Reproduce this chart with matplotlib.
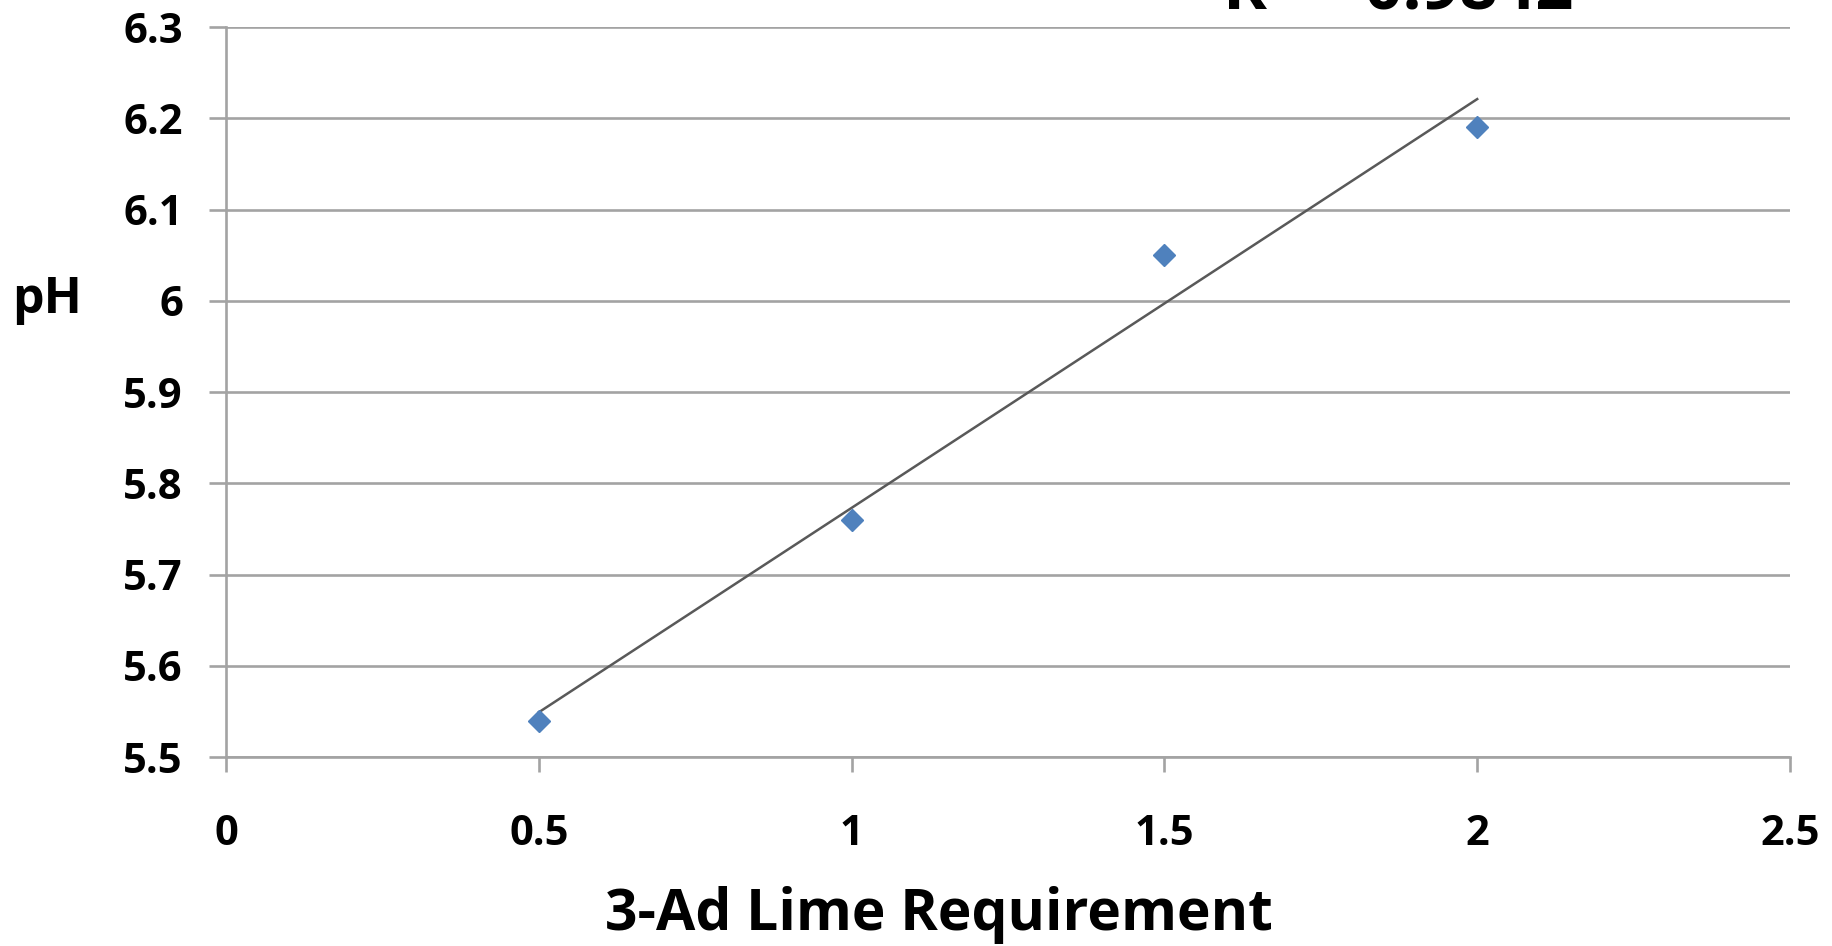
import matplotlib
matplotlib.use("Agg")
import matplotlib.pyplot as plt
import numpy as np

# datos
cal_lima = [0.5, 1.0, 1.5, 2.0]
ph = [5.54, 5.76, 6.05, 6.19]
r2_texto = "R² = 0.9842"
xticks = [0, 0.5, 1, 1.5, 2, 2.5]
xtick_labels = ["0", "0.5", "1", "1.5", "2", "2.5"]
yticks = [5.5, 5.6, 5.7, 5.8, 5.9, 6.0, 6.1, 6.2, 6.3]
ytick_labels = ["5.5", "5.6", "5.7", "5.8", "5.9", "6", "6.1", "6.2", "6.3"]

plt.rcParams["font.family"] = ["Open Sans", "DejaVu Sans"]
plt.rcParams["font.weight"] = "bold"

W, H = 1832, 946
fig = plt.figure(figsize=(W / 100, H / 100), dpi=100)
izq, der, arr, aba = 226, 1790, 27, 757
ax = fig.add_axes([izq / W, 1 - aba / H, (der - izq) / W, (aba - arr) / H])

gris = "#A3A3A3"
ax.set_xlim(0, 2.5)
ax.set_ylim(5.5, 6.3)
ax.set_xticks(xticks)
ax.set_xticklabels(xtick_labels)
ax.set_yticks(yticks)
ax.set_yticklabels(ytick_labels)
ax.grid(axis="y", color=gris, linewidth=1.9, zorder=0)
ax.set_axisbelow(True)
for lado in ["top", "right"]:
    ax.spines[lado].set_visible(False)
for lado in ["left", "bottom"]:
    ax.spines[lado].set_color(gris)
    ax.spines[lado].set_linewidth(1.9)
ax.tick_params(axis="y", length=12, width=1.9, color=gris, pad=19, labelsize=30)
ax.tick_params(axis="x", length=11, width=1.9, color=gris, pad=30, labelsize=30)
for lbl in ax.get_xticklabels() + ax.get_yticklabels():
    lbl.set_fontweight("bold")

# linea de tendencia lineal
pend, inter = np.polyfit(cal_lima, ph, 1)
xs = np.array([cal_lima[0], cal_lima[-1]])
ax.plot(xs, pend * xs + inter, color="#595959", linewidth=1.8, zorder=2)

ax.plot(cal_lima, ph, linestyle="none", marker="D", markersize=11.5,
        color="#4F81BD", markeredgecolor="#4F81BD", zorder=3)

fig.text(939 / W, 1 - 915 / H, "3-Ad Lime Requirement", ha="center", va="center",
         fontsize=41, fontweight="bold")
fig.text(47 / W, 1 - 300 / H, "pH", ha="center", va="center",
         fontsize=36, fontweight="bold")
# R2 de la tendencia, cortado por el borde superior como en el original
fig.text(1398 / W, 1 - 10 / H, r2_texto, ha="center", va="baseline",
         fontsize=48, fontweight="bold")

fig.savefig("out.png", dpi=100)
